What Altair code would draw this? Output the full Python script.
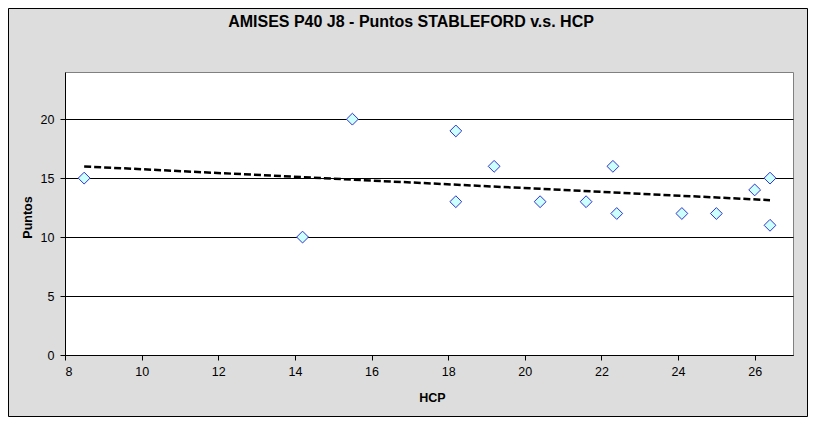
import altair as alt
import pandas as pd

# Data
hcp = [8.5, 14.2, 15.5, 18.2, 18.2, 19.2, 20.4, 21.6, 22.3, 22.4, 24.1, 25.0, 26.0, 26.4, 26.4]
puntos = [15, 10, 20, 19, 13, 16, 13, 13, 16, 12, 12, 12, 14, 15, 11]
x_ticks = [8, 10, 12, 14, 16, 18, 20, 22, 24, 26]
y_ticks = [0, 5, 10, 15, 20]
title_text = "AMISES P40 J8 - Puntos STABLEFORD v.s. HCP"

df = pd.DataFrame({"HCP": hcp, "Puntos": puntos})

FONT = "Liberation Sans"
W, H = 728, 283

x_enc = alt.X(
    "HCP:Q",
    scale=alt.Scale(domain=[8, 27], nice=False, zero=False),
    axis=alt.Axis(
        values=x_ticks, grid=False, title="HCP",
        titleX=367, titleY=42, titleBaseline="middle", titleAlign="center",
        tickSize=5, labelPadding=5,
    ),
)
y_enc = alt.Y(
    "Puntos:Q",
    scale=alt.Scale(domain=[0, 24], nice=False),
    axis=alt.Axis(
        values=y_ticks, grid=True, gridColor="black", gridWidth=1, gridOpacity=1,
        title="Puntos", titleX=-38, titleY=145, titleBaseline="middle", titleAlign="center",
        tickSize=5, labelPadding=6,
    ),
)

points = alt.Chart(df).mark_point(
    shape="diamond", size=140, filled=True, fill="#ccffff", stroke="#3333cc",
    strokeWidth=1, opacity=1, fillOpacity=1,
).encode(x=x_enc, y=y_enc)

trend = alt.Chart(df).transform_regression("HCP", "Puntos").mark_line(
    color="black", strokeDash=[7, 3], strokeWidth=2.5
).encode(x=x_enc, y=y_enc)

frame = alt.Chart(pd.DataFrame({"a": [0]})).mark_rect(
    fillOpacity=0, stroke="black", strokeWidth=1
).encode(
    x=alt.value(-56.5), x2=alt.value(W + 14.5),
    y=alt.value(-63.5), y2=alt.value(H + 61.5),
)

chart = alt.layer(trend, points, frame).properties(
    width=W, height=H,
    title=alt.Title(
        title_text, font=FONT, fontSize=16, fontWeight="bold", color="black",
        anchor="middle", frame="group", dx=-18, offset=0, dy=35, baseline="alphabetic",
    ),
    padding={"left": 57, "top": 64, "right": 15, "bottom": 62},
    autosize=alt.AutoSizeParams(type="none"),
    background="#dddddd",
).configure_view(
    fill="white", stroke="#808080", strokeWidth=1
).configure_axis(
    domainColor="black", tickColor="black", labelColor="black", titleColor="black",
    labelFont=FONT, labelFontSize=12.5, titleFont=FONT, titleFontSize=12.5,
    titleFontWeight="bold", domainWidth=1, tickWidth=1,
)

chart.save("out.html", embed_options={"renderer": "svg", "actions": False})
